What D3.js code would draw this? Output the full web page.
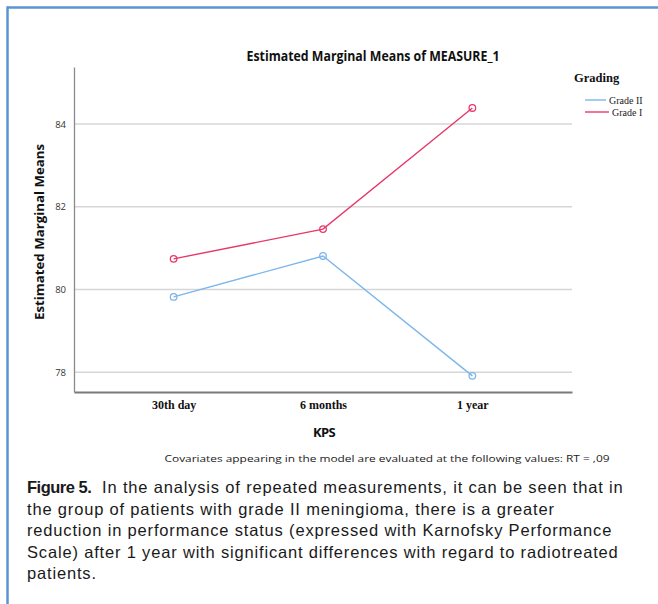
<!DOCTYPE html>
<html>
<head>
<meta charset="utf-8">
<script src="https://cdn.jsdelivr.net/npm/d3@7"></script>
<style>
  html, body { margin: 0; padding: 0; background: #fff; }
  svg { display: block; }
</style>
</head>
<body>
<svg id="fig" width="658" height="604"></svg>
<script>
// Time points on the KPS axis
const categories = ["30th day", "6 months", "1 year"];
// Estimated marginal means per grading group
const gradeII = [79.82, 80.81, 77.91];
const gradeI  = [80.74, 81.46, 84.39];
const seriesNames = ["Grade II", "Grade I"];
const yTicks = [78, 80, 82, 84];

const captionLines = [
  "In the analysis of repeated measurements, it can be seen that in",
  "the group of patients with grade II meningioma, there is a greater",
  "reduction in performance status (expressed with Karnofsky Performance",
  "Scale) after 1 year with significant differences with regard to radiotreated",
  "patients."
];

const colors = { "Grade II": "#7db6ea", "Grade I": "#e8386a" };
const series = [
  { name: seriesNames[0], values: gradeII },
  { name: seriesNames[1], values: gradeI }
];

const svg = d3.select("#fig");

// frame (top and left rules)
svg.append("line").attr("x1", 7).attr("x2", 658).attr("y1", 7.5).attr("y2", 7.5)
  .attr("stroke", "#5b93d3").attr("stroke-width", 2.5);
svg.append("line").attr("x1", 7.5).attr("x2", 7.5).attr("y1", 6.5).attr("y2", 604)
  .attr("stroke", "#5b93d3").attr("stroke-width", 2.5);

const plot = { left: 74, right: 572, top: 67, bottom: 392 };

const x = d3.scalePoint().domain(categories)
  .range([plot.left, plot.right]).padding(0.667);
const y = d3.scaleLinear().domain([77.52, 85.38])
  .range([plot.bottom, plot.top]);

// horizontal grid
svg.append("g").selectAll("line").data(yTicks).join("line")
  .attr("x1", plot.left).attr("x2", plot.right)
  .attr("y1", d => y(d)).attr("y2", d => y(d))
  .attr("stroke", "#d6d6d6").attr("stroke-width", 1.5);

// y axis
const yAxis = svg.append("g").attr("transform", `translate(${plot.left},0)`)
  .call(d3.axisLeft(y).tickValues(yTicks).tickSize(0).tickPadding(8).tickFormat(d3.format("d")));
yAxis.select(".domain").attr("stroke", "#8a8a8a").attr("stroke-width", 1.3);
yAxis.selectAll("text").attr("font-family", "Open Sans, sans-serif")
  .attr("font-size", 9.5).attr("fill", "#333");

// x axis
const xAxis = svg.append("g").attr("transform", `translate(0,${plot.bottom})`)
  .call(d3.axisBottom(x).tickSize(0).tickPadding(8));
xAxis.select(".domain").attr("stroke", "#7a7a7a").attr("stroke-width", 1.8);
xAxis.selectAll("text").attr("font-family", "Liberation Serif, serif")
  .attr("font-weight", "bold").attr("font-size", 12).attr("fill", "#111");

// series lines and markers
const line = d3.line().x((d, i) => x(categories[i])).y(d => y(d));
const g = svg.append("g");
series.forEach(s => {
  g.append("path").datum(s.values).attr("d", line)
    .attr("fill", "none").attr("stroke", colors[s.name]).attr("stroke-width", 1.4);
  g.selectAll(null).data(s.values).join("circle")
    .attr("cx", (d, i) => x(categories[i])).attr("cy", d => y(d)).attr("r", 3.3)
    .attr("fill", "none").attr("stroke", colors[s.name]).attr("stroke-width", 1.3);
});

// title
svg.append("text").attr("x", 373).attr("y", 60.5).attr("text-anchor", "middle")
  .attr("font-family", "Open Sans, sans-serif").attr("font-weight", "bold").attr("font-size", 14)
  .attr("textLength", 253).attr("lengthAdjust", "spacingAndGlyphs").attr("fill", "#111")
  .text("Estimated Marginal Means of MEASURE_1");

// axis titles
svg.append("text").attr("transform", "translate(44,232) rotate(-90)").attr("text-anchor", "middle")
  .attr("font-family", "Open Sans, sans-serif").attr("font-weight", "bold").attr("font-size", 13)
  .attr("textLength", 176).attr("lengthAdjust", "spacingAndGlyphs").attr("fill", "#111")
  .text("Estimated Marginal Means");
svg.append("text").attr("x", 324).attr("y", 437).attr("text-anchor", "middle")
  .attr("font-family", "Open Sans, sans-serif").attr("font-weight", "bold").attr("font-size", 13)
  .attr("fill", "#111").attr("letter-spacing", -0.6).text("KPS");

// covariate note
svg.append("text").attr("x", 387).attr("y", 462).attr("text-anchor", "middle")
  .attr("font-family", "Open Sans, sans-serif").attr("font-size", 9.5)
  .attr("textLength", 445).attr("lengthAdjust", "spacingAndGlyphs").attr("fill", "#222")
  .text("Covariates appearing in the model are evaluated at the following values: RT = ,09");

// legend
const legend = svg.append("g");
legend.append("text").attr("x", 574).attr("y", 82)
  .attr("font-family", "Liberation Serif, serif").attr("font-weight", "bold").attr("font-size", 12.5)
  .attr("fill", "#111").text("Grading");
const legendRows = [{ name: "Grade II", y: 100, x0: 585, tx: 609 }, { name: "Grade I", y: 112, x0: 585, tx: 612 }];
legendRows.forEach(r => {
  legend.append("line").attr("x1", r.x0).attr("x2", r.tx - 3).attr("y1", r.y).attr("y2", r.y)
    .attr("stroke", colors[r.name]).attr("stroke-width", 1.4);
  legend.append("text").attr("x", r.tx).attr("y", r.y + 3.5)
    .attr("font-family", "Liberation Serif, serif").attr("font-size", 10)
    .attr("fill", "#222").text(r.name);
});

// figure caption
const cap = svg.append("g").attr("font-family", "Liberation Sans, Arial, sans-serif")
  .attr("font-size", 16.5).attr("fill", "#1a1a1a");
captionLines.forEach((t, i) => {
  const txt = cap.append("text").attr("class", "capline").attr("x", 27).attr("y", 493 + i * 21.6);
  if (i === 0) {
    txt.append("tspan").attr("font-weight", "bold").attr("letter-spacing", -0.5).text("Figure 5.");
    txt.append("tspan").attr("xml:space", "preserve").text("\u00a0 " + t);
  } else {
    txt.text(t);
  }
});
// fit the caption block to its column width, using the widest line
const capNodes = cap.selectAll("text.capline").nodes();
let wi = 0, wmax = 0;
capNodes.forEach((n, i) => { const w = n.getComputedTextLength(); if (w > wmax) { wmax = w; wi = i; } });
const target = 604;
const nChars = capNodes[wi].textContent.length;
cap.selectAll("text.capline").attr("letter-spacing", (target - wmax) / nChars);
</script>
</body>
</html>
